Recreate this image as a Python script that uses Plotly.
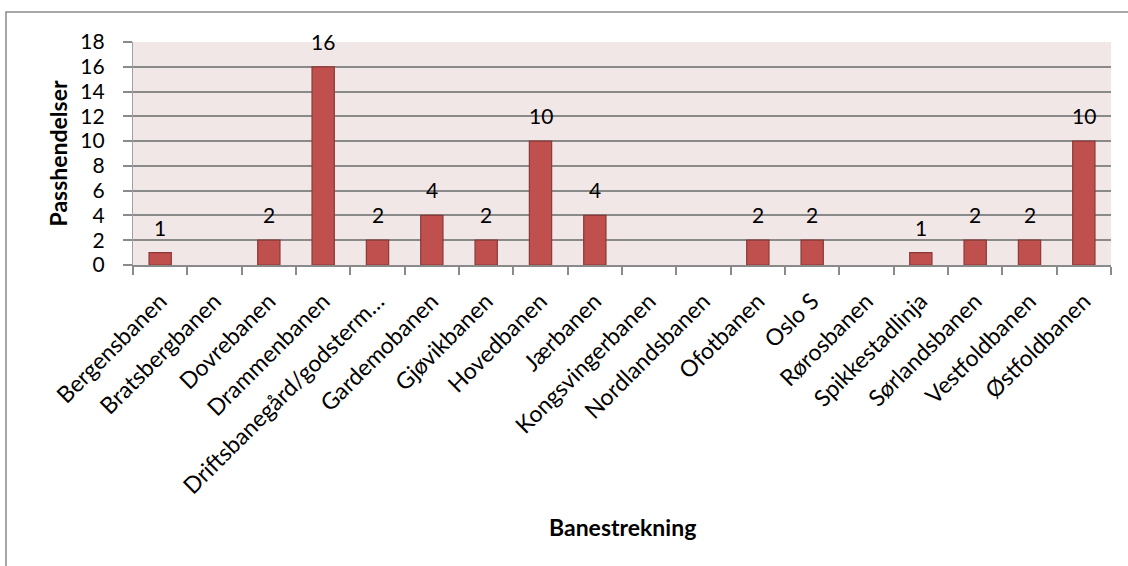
import plotly.graph_objects as go

# Hendelser per banestrekning
banestrekninger = [
    "Bergensbanen", "Bratsbergbanen", "Dovrebanen", "Drammenbanen",
    "Driftsbanegård/godsterm…", "Gardemobanen", "Gjøvikbanen", "Hovedbanen",
    "Jærbanen", "Kongsvingerbanen", "Nordlandsbanen", "Ofotbanen", "Oslo S",
    "Rørosbanen", "Spikkestadlinja", "Sørlandsbanen", "Vestfoldbanen",
    "Østfoldbanen",
]
passhendelser = [1, 0, 2, 16, 2, 4, 2, 10, 4, 0, 0, 2, 2, 0, 1, 2, 2, 10]
y_ticks = [0, 2, 4, 6, 8, 10, 12, 14, 16, 18]

FONT = "Lato"
W, H = 1128, 566
L, R, T, B = 133, 17, 42, 301

fig = go.Figure()
fig.add_trace(go.Bar(
    x=banestrekninger,
    y=passhendelser,
    marker=dict(
        color="#C0504D",
        line=dict(color="#8C3836",
                  width=[1.2 if v > 0 else 0 for v in passhendelser]),
    ),
    hoverinfo="x+y",
))

# Verdietiketter over søylene (kun for søyler med verdi)
annotations = []
for navn, verdi in zip(banestrekninger, passhendelser):
    if verdi > 0:
        annotations.append(dict(
            x=navn, y=verdi, xref="x", yref="y",
            text=str(verdi), showarrow=False,
            yanchor="bottom", yshift=11,
            font=dict(family=FONT, size=21, color="#000000"),
        ))

pw = W - L - R
ph = H - T - B
annotations.append(dict(
    x=0.5, y=(H - 527 - B) / ph, xref="paper", yref="paper",
    text="<b>Banestrekning</b>", showarrow=False,
    xanchor="center", yanchor="middle",
    font=dict(family=FONT, size=23, color="#000000"),
))
annotations.append(dict(
    x=(57 - L) / pw, y=0.5, xref="paper", yref="paper",
    text="<b>Passhendelser</b>", showarrow=False, textangle=-90,
    xanchor="center", yanchor="middle",
    font=dict(family=FONT, size=23, color="#000000"),
))

# Ytre ramme rundt diagrammet
shapes = [dict(
    type="rect", xref="paper", yref="paper",
    x0=(6 - L) / pw, x1=(W + 10 - L) / pw,
    y0=(H - (H + 10) - B) / ph, y1=(H - 12 - B) / ph,
    line=dict(color="#8A8A8A", width=1.5), fillcolor="rgba(0,0,0,0)",
    layer="below",
)]

fig.update_layout(
    width=W, height=H,
    margin=dict(l=L, r=R, t=T, b=B, pad=0),
    paper_bgcolor="#FFFFFF",
    plot_bgcolor="#F2E7E7",
    bargap=0.59,
    showlegend=False,
    font=dict(family=FONT, size=22, color="#000000"),
    annotations=annotations,
    shapes=shapes,
    xaxis=dict(
        tickangle=-45,
        ticks="outside", tickson="boundaries", ticklen=8,
        tickcolor="#8A8A8A", tickwidth=1.5,
        showline=True, linecolor="#8A8A8A", linewidth=1.5,
        showgrid=False,
        ticklabelstandoff=12,
        tickfont=dict(family=FONT, size=23, color="#000000"),
        fixedrange=True,
    ),
    yaxis=dict(
        range=[0, 18],
        tickvals=y_ticks,
        ticks="outside", ticklen=9, tickcolor="#8A8A8A", tickwidth=1.5,
        showline=True, linecolor="#A0A0A0", linewidth=1.2,
        showgrid=True, gridcolor="#8A8A8A", gridwidth=1.5,
        zeroline=False,
        ticklabelstandoff=14,
        tickfont=dict(family=FONT, size=21, color="#000000"),
        fixedrange=True,
    ),
)

fig.write_html("out.html")
